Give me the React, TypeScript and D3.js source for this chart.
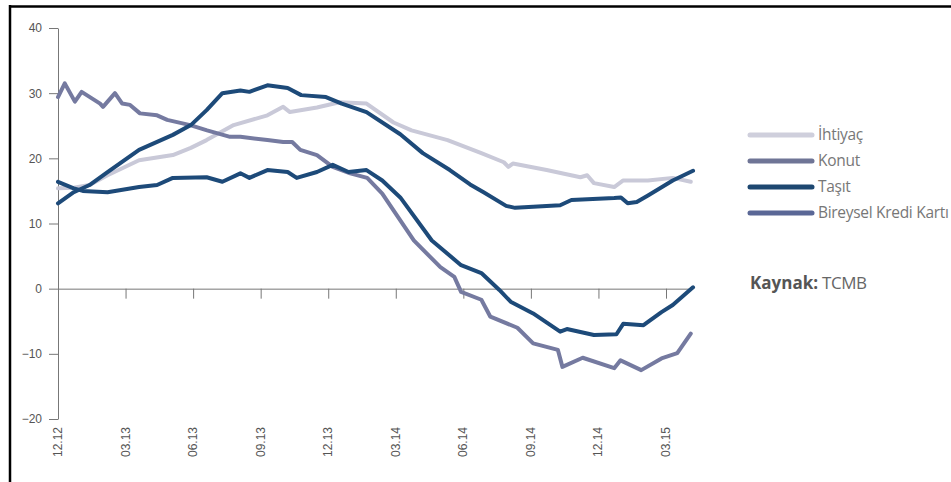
import React, { useEffect, useRef } from "react";
import * as d3 from "d3";

// months counted from Dec 2012
var tickMonths = [0, 3, 6, 9, 12, 15, 18, 21, 24, 27];
var tickLabels = ["12.12", "03.13", "06.13", "09.13", "12.13", "03.14", "06.14", "09.14", "12.14", "03.15"];
var yTicks = [40, 30, 20, 10, 0, -10, -20];

var ihtiyac: [number, number][] = [
    [0, 15.4], [0.7, 15.5], [1.4, 15.9], [2.2, 17.4], [3.6, 19.7], [5.1, 20.5], [5.9, 21.6],
    [6.6, 22.8], [7.8, 25.1], [9.3, 26.6], [10, 27.9], [10.3, 27.1], [11.5, 27.8], [12.5, 28.6],
    [13.7, 28.4], [14.9, 25.5], [15.7, 24.3], [17.3, 22.8], [18.8, 20.8], [19.8, 19.4], [20, 18.7],
    [20.2, 19.2], [21.7, 18.2], [23.2, 17.1], [23.5, 17.4], [23.8, 16.2], [24.7, 15.6], [25.1, 16.6],
    [26.2, 16.6], [27.3, 17], [28.1, 16.4]
];
var konut: [number, number][] = [
    [0, 29.4], [0.3, 31.5], [0.75, 28.7], [1.05, 30.2], [1.87, 28.4], [2, 27.9], [2.53, 30],
    [2.85, 28.4], [3.2, 28.2], [3.64, 26.9], [4.4, 26.6], [4.85, 25.9], [5.87, 25.1], [6.62, 24.3],
    [7.64, 23.3], [8.1, 23.3], [9.3, 22.8], [10, 22.5], [10.4, 22.5], [10.76, 21.3], [11.5, 20.5],
    [12.2, 18.7], [12.98, 17.7], [13.73, 17], [14.4, 14.6], [14.9, 12], [15.8, 7.4], [16.98, 3.3],
    [17.6, 1.8], [17.9, -0.5], [18.8, -1.7], [19.2, -4.3], [20.4, -6], [21.1, -8.4], [22.2, -9.4],
    [22.4, -12], [23.3, -10.6], [24.7, -12.2], [24.98, -11], [25.9, -12.5], [26.8, -10.7],
    [27.5, -9.9], [28.1, -6.9]
];
var tasit: [number, number][] = [
    [0, 13.1], [0.7, 14.8], [1.4, 15.9], [2.2, 17.9], [3.6, 21.3], [5.1, 23.6], [5.9, 25.1],
    [6.6, 27.4], [7.3, 30], [8.1, 30.4], [8.5, 30.2], [9.3, 31.2], [10.2, 30.8], [10.8, 29.7],
    [11.9, 29.4], [12.6, 28.4], [13.7, 27.1], [15.2, 23.7], [16.2, 20.8], [17.4, 18.2], [18.3, 16],
    [18.9, 14.8], [19.9, 12.7], [20.3, 12.4], [22.3, 12.8], [22.8, 13.6], [24.7, 13.9], [25, 14],
    [25.3, 13.1], [25.7, 13.3], [26.2, 14.3], [27.3, 16.6], [28.2, 18.1]
];
var kart: [number, number][] = [
    [0, 16.4], [0.7, 15.4], [1.1, 15], [2.2, 14.8], [3.6, 15.6], [4.4, 15.9], [5.1, 17], [6.6, 17.1],
    [7.3, 16.4], [8.1, 17.7], [8.5, 17], [9.3, 18.2], [10.2, 17.9], [10.6, 17], [11.5, 17.9],
    [12.2, 19], [12.9, 17.9], [13.7, 18.2], [14.4, 16.6], [15.2, 14], [16.6, 7.4], [17.9, 3.6],
    [18.8, 2.4], [19.6, -0.2], [20.1, -2.0], [21.1, -3.8], [22.3, -6.6], [22.6, -6.2], [23.8, -7.1],
    [24.8, -7.0], [25.1, -5.4], [26, -5.6], [26.8, -3.6], [27.3, -2.5], [28.2, 0.2]
];

var seriesNames = ["İhtiyaç", "Konut", "Taşıt", "Bireysel Kredi Kartı"];
var chartColors = ["#c9c9d8", "#757aa0", "#1d4a79", "#1d4a79"];
var legendColors = ["#cfcfdc", "#6f7596", "#1d4770", "#5a6796"];

function App() {
    const ref = useRef<SVGSVGElement>(null);

    useEffect(() => {
        const svg = d3.select(ref.current);
        svg.selectAll("*").remove();

        var x = d3.scaleLinear().domain([0, 27]).range([58, 666]);
        var y = d3.scaleLinear().domain([-20, 40]).range([419, 28]);

        // frame
        svg.append("line").attr("x1", 9).attr("x2", 951).attr("y1", 6.5).attr("y2", 6.5)
            .attr("stroke", "#000").attr("stroke-width", 2.5);
        svg.append("line").attr("x1", 10).attr("x2", 10).attr("y1", 5).attr("y2", 482)
            .attr("stroke", "#000").attr("stroke-width", 2.5);

        // y axis
        var yAxis = svg.append("g").attr("transform", "translate(58,0)")
            .call(d3.axisLeft(y).tickValues(yTicks).tickSize(9).tickPadding(7).tickSizeOuter(0));
        yAxis.select(".domain").attr("stroke", "#777");
        yAxis.selectAll(".tick line").attr("stroke", "#777");
        yAxis.selectAll("text").attr("fill", "#555").style("font-family", "Liberation Sans, Arial, sans-serif").style("font-size", "12px");

        // x axis on zero
        var xAxis = svg.append("g").attr("transform", `translate(0,${y(0)})`)
            .call(d3.axisBottom(x).tickValues(tickMonths).tickSize(10).tickSizeOuter(0).tickFormat(() => ""));
        xAxis.select(".domain").attr("d", `M58,0.5H${x(28.2)}`).attr("stroke", "#777");
        xAxis.selectAll(".tick line").attr("stroke", "#777");

        // rotated month labels
        svg.append("g").selectAll("text").data(tickMonths).enter().append("text")
            .attr("transform", (d: number) => `translate(${x(d) + 4},427) rotate(-90)`)
            .attr("text-anchor", "end")
            .attr("fill", "#555")
            .style("font-family", "Liberation Sans, Arial, sans-serif")
            .style("font-size", "12px")
            .text((d: number, i: number) => tickLabels[i]);

        var line = d3.line<[number, number]>()
            .x((d) => x(d[0]))
            .y((d) => y(d[1]));

        var all = [ihtiyac, konut, kart, tasit];
        var colorIdx = [0, 1, 3, 2];
        all.forEach((s, i) => {
            svg.append("path").datum(s)
                .attr("fill", "none")
                .attr("stroke", chartColors[colorIdx[i]])
                .attr("stroke-width", 4)
                .attr("stroke-linejoin", "round")
                .attr("stroke-linecap", "round")
                .attr("d", line);
        });

        // legend
        seriesNames.forEach((name, i) => {
            var g = svg.append("g").attr("transform", `translate(750,${135 + i * 26})`);
            g.append("line").attr("x1", 0).attr("x2", 62).attr("y1", 0).attr("y2", 0)
                .attr("stroke", legendColors[i]).attr("stroke-width", 5).attr("stroke-linecap", "round");
            g.append("text").attr("x", 68).attr("y", 5)
                .attr("fill", "#777")
                .style("font-family", "Open Sans, sans-serif")
                .style("font-size", "15.5px")
                .style("letter-spacing", "-0.3px")
                .text(name);
        });

        var src = svg.append("text").attr("x", 750).attr("y", 289)
            .style("font-family", "Open Sans, sans-serif").style("font-size", "17px").attr("fill", "#555");
        src.append("tspan").style("font-weight", "bold").text("Kaynak:");
        src.append("tspan").attr("dx", 4).attr("fill", "#666").style("letter-spacing", "-0.5px").text("TCMB");
    }, []);

    return (
        <svg ref={ref} width={951} height={482}
            style={{ position: "absolute", left: 0, top: 0, background: "#fff" }}></svg>
    );
}

export default App;
